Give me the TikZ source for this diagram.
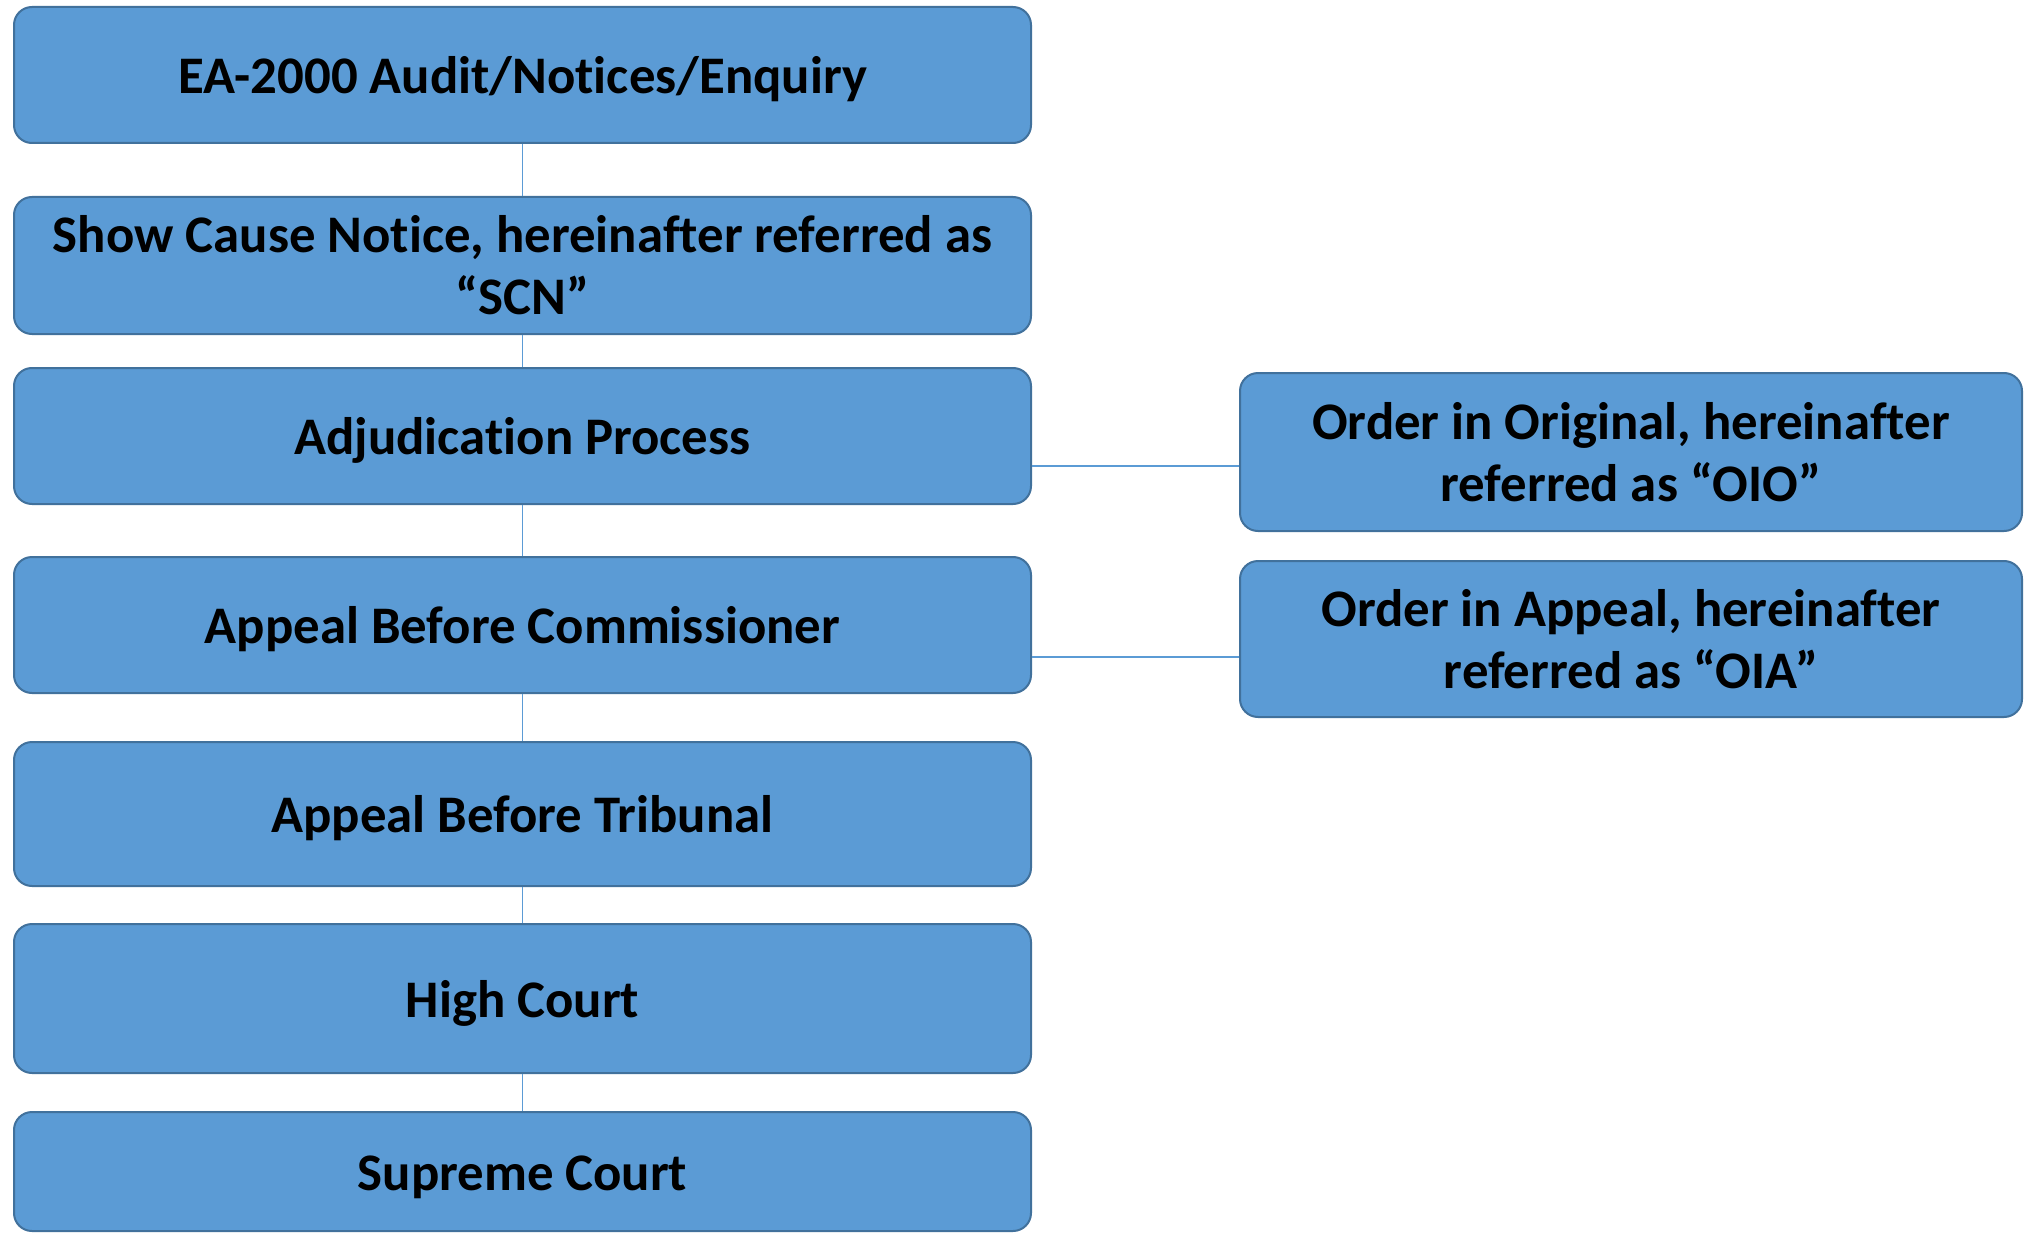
\documentclass[tikz,border=0pt]{standalone}
\usepackage{fontspec}
\setmainfont{Carlito}[Ligatures={NoCommon}]
\definecolor{boxfill}{HTML}{5B9BD5}
\definecolor{boxline}{HTML}{41719C}
\begin{document}
\begin{tikzpicture}[x=0.5pt,y=-0.5pt,
  stage/.style={draw=boxline, line width=1pt, fill=boxfill, rounded corners=9pt,
    align=center, inner sep=0pt, text=black,
    font=\fontsize{26.4}{31}\selectfont\bfseries},
  leftbox/.style={stage, minimum width=508.5pt},
  oneline/.style={text height=24.5pt, text depth=6pt},
  rightbox/.style={stage, minimum width=391pt},
  conn/.style={draw=boxfill, line width=0.6pt}]
\useasboundingbox[fill=white] (0,0) rectangle (2028,1241);

\node[leftbox, oneline, minimum height=68pt] (b1) at (522.5,75) {EA-2000 Audit/Notices/Enquiry};
\node[leftbox, minimum height=68.5pt] (b2) at (522.5,265.5) {Show Cause Notice, hereinafter referred as\\“SCN”};
\node[leftbox, oneline, minimum height=68pt] (b3) at (522.5,436) {Adjudication Process};
\node[leftbox, oneline, minimum height=68pt] (b4) at (522.5,625) {Appeal Before Commissioner};
\node[leftbox, oneline, minimum height=72pt] (b5) at (522.5,814) {Appeal Before Tribunal};
\node[leftbox, oneline, minimum height=74.5pt] (b6) at (522.5,998.5) {High Court};
\node[leftbox, oneline, minimum height=59.5pt] (b7) at (522.5,1171.5) {Supreme Court};

\node[rightbox, minimum height=79pt] (oio) at (1631,452) {Order in Original, hereinafter\\referred as “OIO”};
\node[rightbox, minimum height=78pt] (oia) at (1631,639) {Order in Appeal, hereinafter\\referred as “OIA”};

\coordinate (l1) at (0,466);
\coordinate (l2) at (0,657);

\draw[conn] (b1) -- (b2);
\draw[conn] (b2) -- (b3);
\draw[conn] (b3) -- (b4);
\draw[conn] (b4) -- (b5);
\draw[conn] (b5) -- (b6);
\draw[conn] (b6) -- (b7);
\draw[conn] (b3.east |- l1) -- (oio.west |- l1);
\draw[conn] (b4.east |- l2) -- (oia.west |- l2);
\end{tikzpicture}
\end{document}
